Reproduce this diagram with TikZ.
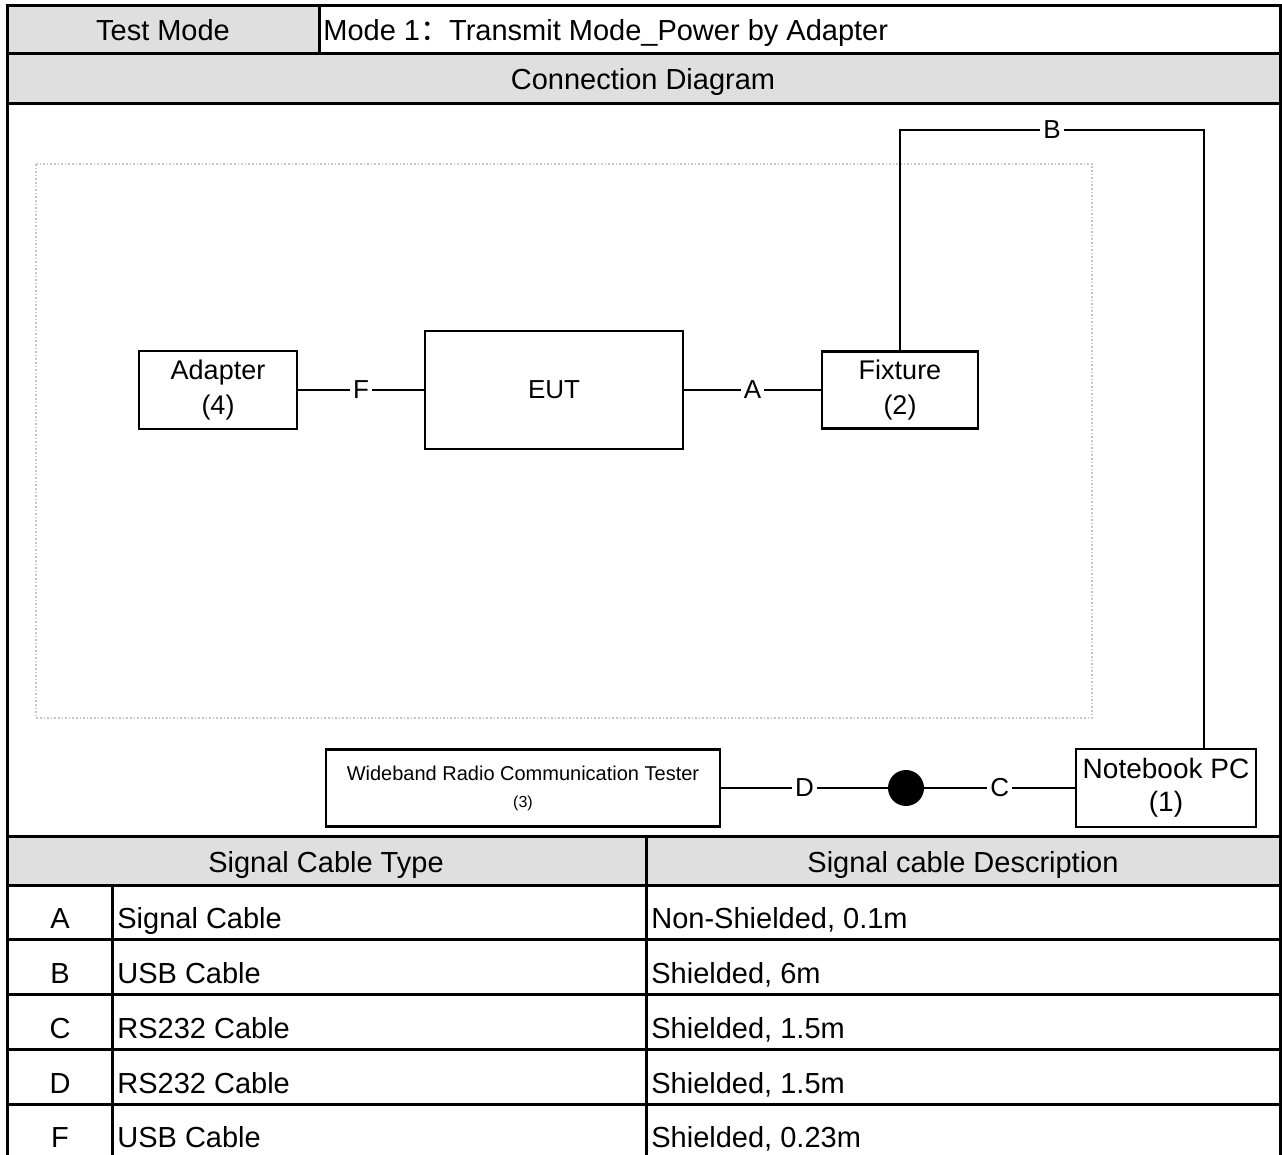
\documentclass[tikz,border=0pt]{standalone}
\usepackage{fontspec}
\setmainfont{Liberation Sans}
\newfontfamily\cjk{Noto Sans CJK SC}
\definecolor{cellgray}{HTML}{DFDFDF}

\begin{document}
\begin{tikzpicture}[
x=0.5pt,y=-0.5pt,
cell/.style={
inner sep=0pt,
anchor=base,
font=\fontsize{14.5}{17}\selectfont},
grid/.style={
line width=1.5pt},
block/.style={
draw,
fill=white,
rectangle,
line width=1.2pt,
align=center,
font=\fontsize{13.5}{17.5}\selectfont},
cable/.style={
line width=1pt},
tag/.style={
fill=white,
inner sep=1.5pt,
font=\fontsize{13}{15}\selectfont}
]
\useasboundingbox (0,0) rectangle (1282,1155);

% gray cells
\fill[cellgray] (7,6) rectangle (319,54);
\fill[cellgray] (7,54) rectangle (1280,104);
\fill[cellgray] (7,836) rectangle (1280,885);

% table rules
\draw[grid] (7,1156) -- (7,6) -- (1280,6) -- (1280,1156);
\draw[grid] (7,54) -- (1280,54);
\draw[grid] (7,104) -- (1280,104);
\draw[grid] (7,836) -- (1280,836);
\draw[grid] (7,885) -- (1280,885);
\draw[grid] (7,939) -- (1280,939);
\draw[grid] (7,994) -- (1280,994);
\draw[grid] (7,1049) -- (1280,1049);
\draw[grid] (7,1104) -- (1280,1104);
\draw[grid] (319,6) -- (319,54);
\draw[grid] (646,836) -- (646,1156);
\draw[grid] (112,885) -- (112,1156);

% table texts
\node[cell] (mode) at (163,41) {Test Mode};
\node[cell,anchor=base west] (modename) at (323,41) {Mode 1{\cjk ：}Transmit Mode\_Power by Adapter};
\node[cell] (conn) at (643,90) {Connection Diagram};
\node[cell] (typehead) at (326,872) {Signal Cable Type};
\node[cell] (deschead) at (963,872) {Signal cable Description};

\node[cell] (ida) at (60,928) {A};
\node[cell,anchor=base west] (typea) at (117,928) {Signal Cable};
\node[cell,anchor=base west] (desca) at (651,928) {Non-Shielded, 0.1m};
\node[cell] (idb) at (60,983) {B};
\node[cell,anchor=base west] (typeb) at (117,983) {USB Cable};
\node[cell,anchor=base west] (descb) at (651,983) {Shielded, 6m};
\node[cell] (idc) at (60,1038) {C};
\node[cell,anchor=base west] (typec) at (117,1038) {RS232 Cable};
\node[cell,anchor=base west] (descc) at (651,1038) {Shielded, 1.5m};
\node[cell] (idd) at (60,1093) {D};
\node[cell,anchor=base west] (typed) at (117,1093) {RS232 Cable};
\node[cell,anchor=base west] (descd) at (651,1093) {Shielded, 1.5m};
\node[cell] (idf) at (60,1147) {F};
\node[cell,anchor=base west] (typef) at (117,1147) {USB Cable};
\node[cell,anchor=base west] (descf) at (651,1147) {Shielded, 0.23m};

% test table area
\draw[gray!45,densely dotted,line width=0.8pt] (36,164) rectangle (1092,718);

% units
\node[block,minimum width=79pt,minimum height=39pt] (ad) at (218,390) {Adapter\\(4)};
\node[block,minimum width=129pt,minimum height=59pt,font=\fontsize{13}{15}\selectfont] (eut) at (554,390) {EUT};
\node[block,minimum width=78pt,minimum height=38.5pt] (fix) at (900,390) {Fixture\\(2)};
\node[block,minimum width=197pt,minimum height=38.5pt,font=\fontsize{10}{13.5}\selectfont] (tester) at (523,788) {Wideband Radio Communication Tester\\{\fontsize{8}{9}\selectfont(3)}};
\node[block,minimum width=88pt,minimum height=39pt,font=\fontsize{14}{16.5}\selectfont] (nb) at (1166,788) {Notebook PC\\(1)};
\node[circle,fill=black,minimum size=18pt,inner sep=0pt] (dot) at (906,788) {};

% cables
\coordinate (bturn) at (1204,130);
\draw[cable] (ad) -- node[tag]{F} (eut);
\draw[cable] (eut) -- node[tag]{A} (fix);
\draw[cable] (fix.north) |- node[tag,pos=0.75]{B} (bturn) -- (bturn |- nb.north);
\draw[cable] (tester) -- node[tag]{D} (dot);
\draw[cable] (dot) -- node[tag]{C} (nb);

\end{tikzpicture}
\end{document}
